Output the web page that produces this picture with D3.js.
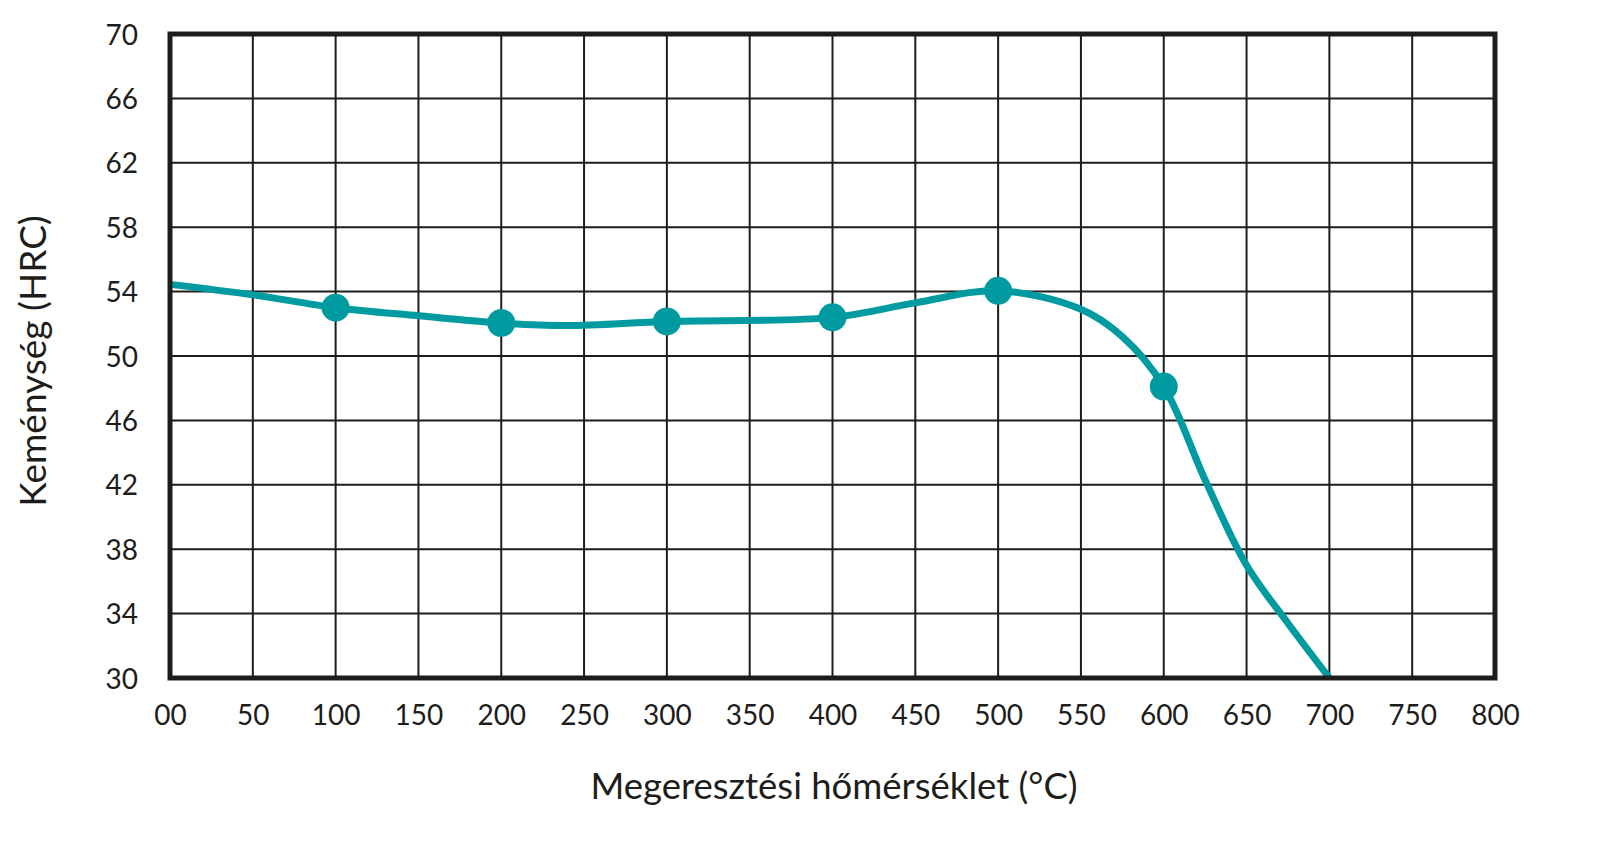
<!DOCTYPE html>
<html>
<head>
<meta charset="utf-8">
<script src="https://cdn.jsdelivr.net/npm/d3@7/dist/d3.min.js"></script>
<style>
  html, body { margin: 0; padding: 0; background: #ffffff; }
  svg { display: block; }
  text { font-family: "Lato", "Open Sans", sans-serif; fill: #1d1d1b; }
</style>
</head>
<body>
<script>
// ---- data ----
const xTicks = [0, 50, 100, 150, 200, 250, 300, 350, 400, 450, 500, 550, 600, 650, 700, 750, 800];
const xTickLabels = ["00", "50", "100", "150", "200", "250", "300", "350", "400", "450", "500", "550", "600", "650", "700", "750", "800"];
const yTicks = [30, 34, 38, 42, 46, 50, 54, 58, 62, 66, 70];

// smooth curve (temperature °C, hardness HRC)
const curveTemp = [0, 50, 100, 150, 200, 240, 300, 400, 450, 500, 550, 575, 600, 625, 650, 675, 700];
const curveHRC  = [54.45, 53.8, 53.0, 52.5, 52.05, 51.9, 52.15, 52.4, 53.3, 54.05, 52.9, 51.2, 48.1, 42.3, 37.0, 33.4, 30.0];

// measured points (markers)
const pointTemp = [100, 200, 300, 400, 500, 600];
const pointHRC  = [53.0, 52.05, 52.15, 52.4, 54.05, 48.1];

const xTitle = "Megeresztési hőmérséklet (°C)";
const yTitle = "Keménység (HRC)";

// ---- drawing ----
const W = 1621, H = 862;
const plotL = 170, plotR = 1495, plotT = 34, plotB = 678;
const teal = "#009aa1";
const ink = "#1d1d1b";

const svg = d3.select("body").append("svg").attr("width", W).attr("height", H);

const x = d3.scaleLinear().domain([0, 800]).range([plotL, plotR]);
const y = d3.scaleLinear().domain([30, 70]).range([plotB, plotT]);

// grid
const grid = svg.append("g");
grid.selectAll("line.v").data(xTicks).join("line").attr("class", "v")
  .attr("x1", d => x(d)).attr("x2", d => x(d))
  .attr("y1", y(70)).attr("y2", y(30))
  .attr("stroke", ink).attr("stroke-width", 2);
grid.selectAll("line.h").data(yTicks).join("line").attr("class", "h")
  .attr("y1", d => y(d)).attr("y2", d => y(d))
  .attr("x1", x(0)).attr("x2", x(800))
  .attr("stroke", ink).attr("stroke-width", 2);

// curve
const pts = curveTemp.map((t, i) => [t, curveHRC[i]]);
const line = d3.line().x(d => x(d[0])).y(d => y(d[1])).curve(d3.curveCatmullRom.alpha(0.5));
svg.append("path").attr("d", line(pts))
  .attr("fill", "none").attr("stroke", teal).attr("stroke-width", 7)
  .attr("stroke-linecap", "butt").attr("stroke-linejoin", "round");

// markers
svg.append("g").selectAll("circle").data(pointTemp.map((t, i) => [t, pointHRC[i]])).join("circle")
  .attr("cx", d => x(d[0])).attr("cy", d => y(d[1])).attr("r", 14).attr("fill", teal);

// frame
svg.append("rect")
  .attr("x", x(0)).attr("y", y(70))
  .attr("width", x(800) - x(0)).attr("height", y(30) - y(70))
  .attr("fill", "none").attr("stroke", ink).attr("stroke-width", 5);

// y axis labels
const yAxis = d3.axisLeft(y).tickValues(yTicks).tickSize(0).tickPadding(0).tickFormat(d3.format("d"));
const gy = svg.append("g").attr("transform", `translate(${x(0) - 32},0)`).call(yAxis);
gy.select(".domain").remove();
gy.selectAll("text").attr("font-size", 28).attr("font-family", "Lato").attr("fill", ink).attr("dy", "0.36em");

// x axis labels
const xAxis = d3.axisBottom(x).tickValues(xTicks).tickSize(0).tickPadding(0)
  .tickFormat((d, i) => xTickLabels[i]);
const gx = svg.append("g").attr("transform", `translate(0,${y(30)})`).call(xAxis);
gx.select(".domain").remove();
gx.selectAll("text").attr("font-size", 28).attr("font-family", "Lato").attr("fill", ink)
  .attr("dy", null).attr("y", 47);

// titles
svg.append("text").attr("x", 834).attr("y", 799).attr("text-anchor", "middle")
  .attr("font-size", 36.5).text(xTitle);
svg.append("text").attr("transform", `translate(46,361) rotate(-90)`).attr("text-anchor", "middle")
  .attr("font-size", 37).text(yTitle);
</script>
</body>
</html>
